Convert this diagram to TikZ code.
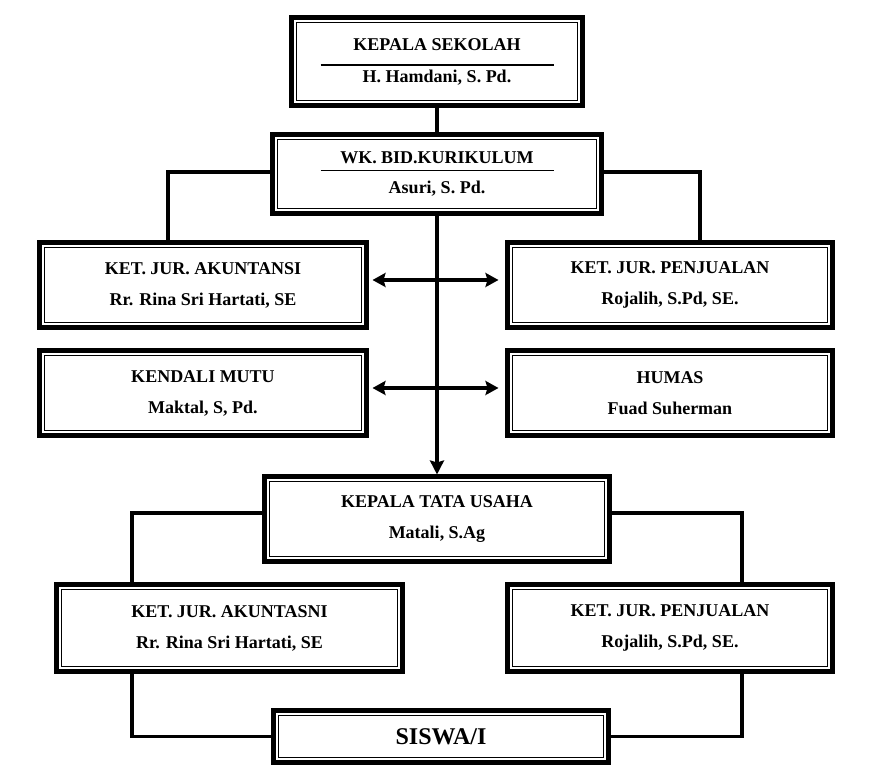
\documentclass[tikz,border=0pt]{standalone}
\usepackage{fontspec}
\setmainfont{Liberation Serif}
\usepackage{tikz}
\usetikzlibrary{arrows.meta, calc, positioning}
\tikzstyle{unit} = [draw=black, line width=5pt, outer sep=0pt, inner sep=0pt, align=center, font=\bfseries\fontsize{18}{31}\selectfont, path picture={\draw[line width=1.3pt] ([shift={(5.3pt,-5.3pt)}]path picture bounding box.north west) rectangle ([shift={(-5.3pt,5.3pt)}]path picture bounding box.south east);}]
\tikzstyle{link} = [line width=3.5pt]
\tikzstyle{arrow} = [line width=3.5pt, -{Stealth[length=14pt, width=14pt, inset=2pt]}]
\tikzstyle{twoway} = [line width=3.5pt, {Stealth[length=13pt, width=14pt, inset=2pt]}-{Stealth[length=13pt, width=14pt, inset=2pt]}]

\begin{document}
\begin{tikzpicture}[x=1pt, y=1pt]
	\useasboundingbox (0,0) rectangle (880,768);
	% pimpinan
	\node (kepsek) [unit, minimum width=291pt, minimum height=88pt] at (437,706.5) {KEPALA SEKOLAH\\[-15.4pt]\rule{233pt}{1.2pt}\\[-14.6pt]H. Hamdani, S. Pd.};
	\node (kurikulum) [unit, minimum width=329pt, minimum height=79pt] at (437,594) {WK. BID.KURIKULUM\\[-23.4pt]\rule{233pt}{1.2pt}\\[-8.6pt]Asuri, S. Pd.};
	% jurusan dan bagian
	\node (akuntansi) [unit, minimum width=327pt, minimum height=85pt] at (203,483) {KET. JUR. AKUNTANSI\\Rr. Rina Sri Hartati, SE};
	\node (penjualan) [unit, minimum width=325pt, minimum height=85pt] at (670,483) {KET. JUR. PENJUALAN\\Rojalih, S.Pd, SE.};
	\node (mutu) [unit, minimum width=327pt, minimum height=85pt] at (203,375) {KENDALI MUTU\\Maktal, S, Pd.};
	\node (humas) [unit, minimum width=325pt, minimum height=85pt] at (670,375) {HUMAS\\Fuad Suherman};
	% tata usaha
	\node (tatausaha) [unit, minimum width=345pt, minimum height=85pt] at (437,249) {KEPALA TATA USAHA\\Matali, S.Ag};
	\node (akuntasni) [unit, minimum width=346pt, minimum height=87pt] at (229.5,140) {KET. JUR. AKUNTASNI\\Rr. Rina Sri Hartati, SE};
	\node (penjualanb) [unit, minimum width=325pt, minimum height=87pt] at (670,140) {KET. JUR. PENJUALAN\\Rojalih, S.Pd, SE.};
	\node (siswa) [unit, minimum width=335pt, minimum height=52pt, font=\bfseries\fontsize{24}{28}\selectfont] at (441,31.5) {SISWA/I};
	% garis
	\draw [link] (kepsek) -- (kurikulum);
	\draw [link] ([yshift=2pt]kurikulum.west) -| ([xshift=-35pt]akuntansi.north);
	\draw [link] ([yshift=2pt]kurikulum.east) -| ([xshift=30pt]penjualan.north);
	\draw [arrow, shorten >=2pt] (kurikulum) -- (tatausaha);
	\draw [twoway, shorten <=6pt, shorten >=9pt] ([yshift=5pt]akuntansi.east) -- ([yshift=5pt]penjualan.west);
	\draw [twoway, shorten <=6pt, shorten >=9pt] ([yshift=5pt]mutu.east) -- ([yshift=5pt]humas.west);
	\draw [link] ([yshift=6pt]tatausaha.west) -| ([xshift=-97.5pt]akuntasni.north);
	\draw [link] ([yshift=6pt]tatausaha.east) -| ([xshift=72pt]penjualanb.north);
	\draw [link] ([xshift=-97.5pt]akuntasni.south) |- (siswa.west);
	\draw [link] ([xshift=72pt]penjualanb.south) |- (siswa.east);
\end{tikzpicture}
\end{document}
